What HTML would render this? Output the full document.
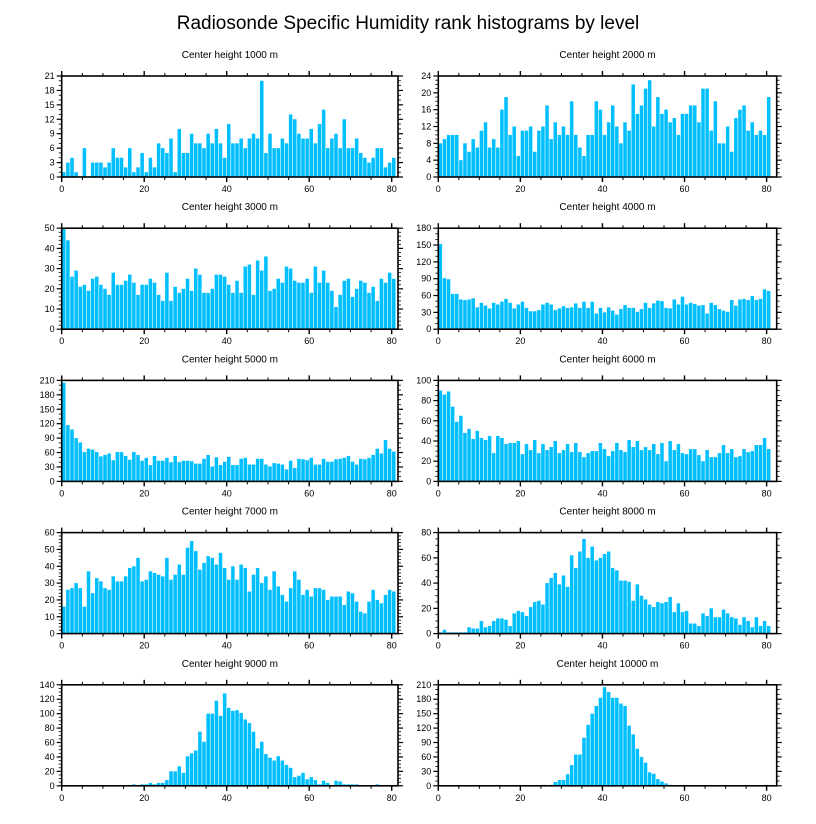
<!DOCTYPE html>
<html><head><meta charset="utf-8">
<style>
html,body{margin:0;padding:0;background:#fff;}
svg{display:block;font-family:"Liberation Sans",Arial,sans-serif;}
</style></head>
<body>
<svg id="chart" width="816" height="824" viewBox="0 0 816 824" xmlns="http://www.w3.org/2000/svg">
<text x="408" y="29" font-size="19" text-anchor="middle" fill="#000">Radiosonde Specific Humidity rank histograms by level</text>
</svg>
<script>
const levels = ["1000","2000","3000","4000","5000","6000","7000","8000","9000","10000"];
const yMax = [21,24,50,180,210,100,60,80,140,210];
const yStep = [3,4,10,30,30,20,10,20,20,30];
const yMinor = [1,1,2,10,10,5,2,5,5,10];
const xTicks = [0,20,40,60,80];
const h1000 = [1,3,4,1,0,6,0,3,3,3,2,3,6,4,4,2,6,1,2,5,1,4,2,7,6,5,8,1,10,5,5,9,7,7,6,9,7,10,7,4,11,7,7,8,6,8,9,8,20,5,9,6,6,8,7,13,12,9,8,8,10,7,11,14,6,8,9,6,12,6,6,8,5,4,3,4,6,6,2,3,4];
const h2000 = [8,9,10,10,10,4,8,6,9,7,11,13,7,9,7,16,19,10,12,5,11,11,12,6,11,12,17,9,13,10,12,10,18,10,7,5,10,10,18,16,10,13,17,12,8,13,11,22,15,17,21,23,12,19,15,16,13,14,10,15,15,17,17,13,21,21,11,18,8,8,12,6,14,16,17,11,13,10,11,10,19];
const h3000 = [52,44,26,29,21,22,19,25,26,22,20,17,28,22,22,24,27,23,17,22,22,25,23,17,14,28,14,21,18,20,25,19,30,27,18,18,20,27,27,26,22,18,24,18,31,32,17,34,29,36,19,20,25,23,31,30,24,23,23,25,18,31,23,29,23,19,11,17,24,25,16,20,24,23,18,21,14,25,23,28,25];
const h4000 = [152,91,89,63,63,53,52,53,55,39,47,42,37,47,44,49,54,47,37,44,49,38,32,32,34,44,47,44,34,37,41,38,39,46,38,49,38,49,28,38,30,39,33,26,36,43,38,38,31,36,47,38,46,51,50,38,37,53,44,58,44,47,45,42,43,28,47,43,36,33,31,52,42,53,54,52,59,52,54,71,68];
const h5000 = [205,117,108,90,81,61,68,66,61,52,55,58,44,61,61,53,45,61,55,43,49,34,53,43,43,49,40,53,40,43,43,42,37,37,47,55,31,50,34,41,51,34,34,47,49,35,35,47,47,35,31,38,37,35,25,43,28,47,46,44,49,35,35,47,41,41,46,47,49,53,41,35,47,46,49,55,68,58,86,68,62];
const h6000 = [90,86,89,74,59,65,48,52,42,50,43,41,45,28,45,43,37,38,38,40,27,37,31,41,28,37,31,34,40,28,31,37,29,38,29,24,28,30,30,38,32,25,30,38,31,29,41,34,40,31,34,31,37,27,38,20,40,31,37,28,27,32,32,26,20,31,24,24,28,36,28,32,24,25,32,29,30,36,36,43,32];
const h7000 = [16,26,27,30,27,16,37,24,33,31,27,26,34,31,31,34,39,40,45,31,32,37,36,35,34,45,32,35,41,35,51,55,49,38,42,46,45,41,48,39,32,40,32,41,39,25,35,39,30,34,26,37,28,23,19,27,37,32,23,26,22,27,27,26,20,22,22,22,17,25,24,19,13,12,19,26,20,18,23,26,25];
const h8000 = [1,3,1,1,1,1,1,5,4,4,10,5,6,10,12,12,11,6,16,18,17,14,21,25,26,23,40,44,48,39,46,37,62,52,65,75,60,69,58,60,63,65,52,50,42,42,41,26,39,30,27,23,21,25,24,25,29,17,24,17,18,8,8,6,16,14,20,13,13,19,16,13,12,7,13,10,5,13,6,10,6];
const h9000 = [0,0,0,0,0,0,0,0,0,0,0,0,0,0,0,0,0,2,0,2,2,4,2,4,4,8,20,20,27,18,41,45,49,75,61,100,100,118,97,128,108,104,105,101,92,87,75,52,61,44,39,35,41,35,29,25,12,14,18,9,12,8,2,7,4,1,7,6,2,2,2,2,0,0,0,0,2,0,0,0,0];
const h10000 = [0,0,0,0,0,0,0,0,0,0,0,0,0,0,0,0,0,0,0,0,0,0,0,0,0,2,0,2,8,12,12,24,43,65,65,100,127,150,166,183,205,195,183,183,171,166,125,107,77,60,48,28,25,14,9,5,2,1,1,1,1,1,1,1,0,0,0,0,0,0,0,0,0,0,0,0,0,0,0,0,0];
const series = [h1000,h2000,h3000,h4000,h5000,h6000,h7000,h8000,h9000,h10000];

const NS = "http://www.w3.org/2000/svg";
const svg = document.getElementById("chart");
function mk(tag, attrs, parent){
  const e = document.createElementNS(NS, tag);
  for (const k in attrs) e.setAttribute(k, attrs[k]);
  parent.appendChild(e);
  return e;
}
const X_MAX = 81.5;
for (let p = 0; p < 10; p++) {
  const col = p % 2, row = Math.floor(p / 2);
  const L = col ? 438.3 : 61.7, R = col ? 776.7 : 398;
  const xs = col ? 4.104 : 4.125;
  const T = 76 + row * 152.2, B = T + 101;
  const sx = v => L + v * xs;
  const sy = v => B - (Math.min(v, yMax[p]) / yMax[p]) * (B - T);
  const g = mk("g", {}, svg);
  
  
  const t = mk("text", {x: (L + R) / 2, y: T - 18, "font-size": 10, "text-anchor": "middle", fill: "#000"}, g);
  t.textContent = "Center height " + levels[p] + " m";
  
  
  const data = series[p];
  for (let i = 0; i < data.length; i++) {
    if (data[i] <= 0) continue;
    const r = mk("rect", {x: sx(i) + 0.3, y: sy(data[i]), width: xs - 0.6, height: B - sy(data[i]), fill: "#00BFFF"}, g);
    
    
  }
  const fr = mk("rect", {x: L, y: T, width: R - L, height: B - T, fill: "none", stroke: "#000", "stroke-width": 1.6}, g);
  
  
  // x ticks
  for (let v = 0; v <= 80; v += 5) {
    const major = v % 20 === 0;
    const len = major ? 5 : 3;
    mk("line", {x1: sx(v), x2: sx(v), y1: B, y2: B + len, stroke: "#000", "stroke-width": major ? 1.4 : 1}, g);
    mk("line", {x1: sx(v), x2: sx(v), y1: T, y2: T - len, stroke: "#000", "stroke-width": major ? 1.4 : 1}, g);
  }
  for (const v of xTicks) {
    const tl = mk("text", {x: sx(v), y: B + 15, "font-size": 9, "text-anchor": "middle", fill: "#000"}, g);
    tl.textContent = v;
    
    
  }
  // y ticks
  for (let v = 0; v <= yMax[p] + 1e-9; v += yMinor[p]) {
    const major = Math.abs(v / yStep[p] - Math.round(v / yStep[p])) < 1e-6;
    const len = major ? 5 : 3;
    mk("line", {x1: L, x2: L - len, y1: sy(v), y2: sy(v), stroke: "#000", "stroke-width": major ? 1.2 : 0.8}, g);
    mk("line", {x1: R, x2: R + len, y1: sy(v), y2: sy(v), stroke: "#000", "stroke-width": major ? 1.2 : 0.8}, g);
    if (major) {
      const yl = mk("text", {x: L - 7, y: sy(v) + 3, "font-size": 9, "text-anchor": "end", fill: "#000"}, g);
      yl.textContent = Math.round(v);
      
      
    }
  }
}
</script>
</body></html>
